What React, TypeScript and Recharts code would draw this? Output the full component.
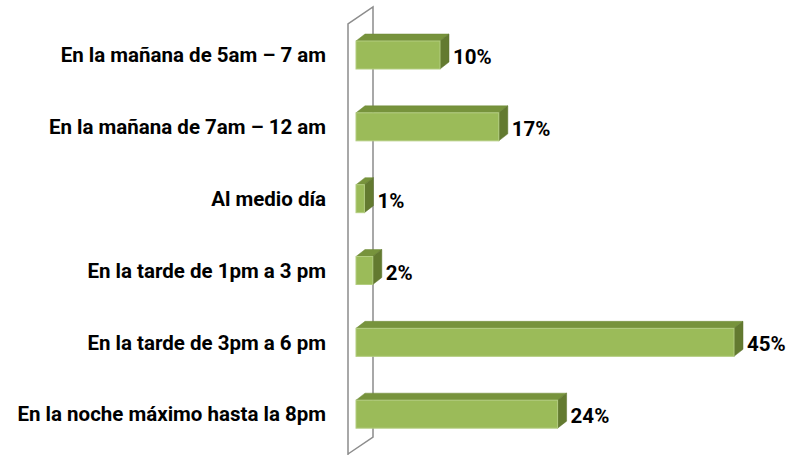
import React from "react";
import { BarChart, Bar, XAxis, YAxis, LabelList, Customized } from "recharts";

const categories = [
  "En la mañana de 5am – 7 am",
  "En la mañana de 7am – 12 am",
  "Al medio día",
  "En la tarde de 1pm a 3 pm",
  "En la tarde de 3pm a 6 pm",
  "En la noche máximo hasta la 8pm",
];
const values = [10, 17, 1, 2, 45, 24];

const data = categories.map((c, i) => ({ cat: c, value: values[i] }));

const W = 790;
const H = 455;
const MARGIN = { top: 19, right: 14, bottom: 5, left: 0 };
const YAXIS_W = 356;
const DX = 9;
const DY = 7;
const FONT = "Roboto, 'Noto Sans', sans-serif";

const Bar3D = (props: any) => {
  const { x, y, width, height } = props;
  if (width == null || height == null) return null;
  const w = Math.max(width, 0);
  return (
    <g>
      <polygon
        points={`${x},${y} ${x + DX},${y - DY} ${x + w + DX},${y - DY} ${x + w},${y}`}
        fill="#77933C"
        stroke="#6E8A36"
        strokeWidth={0.5}
      />
      <polygon
        points={`${x + w},${y} ${x + w + DX},${y - DY} ${x + w + DX},${y + height - DY} ${x + w},${y + height}`}
        fill="#637A30"
        stroke="#5C722C"
        strokeWidth={0.5}
      />
      <rect x={x} y={y} width={w} height={height} fill="#9BBB59" stroke="#B3CD80" strokeWidth={1} />
    </g>
  );
};

const ValueLabel = (props: any) => {
  const { x, y, width, height, value } = props;
  return (
    <text
      x={x + width + DX + 4}
      y={y + height / 2 + 2}
      dominantBaseline="central"
      fontFamily={FONT}
      fontWeight={700}
      fontSize={20.5}
      fill="#000"
    >
      {value}%
    </text>
  );
};

const Wall = () => {
  const px = MARGIN.left + YAXIS_W;
  const fx = px - 8;
  const bx = px + 17;
  return (
    <g>
      <polyline
        points={`${fx},${H} ${fx},24 ${bx},7 ${bx},437 ${fx},${H - 1}`}
        fill="none"
        stroke="#8C8C8C"
        strokeWidth={1.5}
      />
    </g>
  );
};

export default function App() {
  return (
    <div style={{ position: "absolute", left: 0, top: 0, width: W, height: H, background: "#fff" }}>
      <BarChart width={W} height={H} data={data} layout="vertical" margin={MARGIN}>
        <Customized component={<Wall />} />
        <XAxis type="number" domain={[0, 50]} hide />
        <YAxis
          type="category"
          dataKey="cat"
          width={YAXIS_W}
          axisLine={false}
          tickLine={false}
          tickSize={0}
          tickMargin={30}
          tick={{ fill: "#000", fontFamily: FONT, fontWeight: 700, fontSize: 20.5 }}
          interval={0}
        />
        <Bar dataKey="value" barSize={28} shape={<Bar3D />} isAnimationActive={false}>
          <LabelList dataKey="value" content={<ValueLabel />} />
        </Bar>
      </BarChart>
    </div>
  );
}
